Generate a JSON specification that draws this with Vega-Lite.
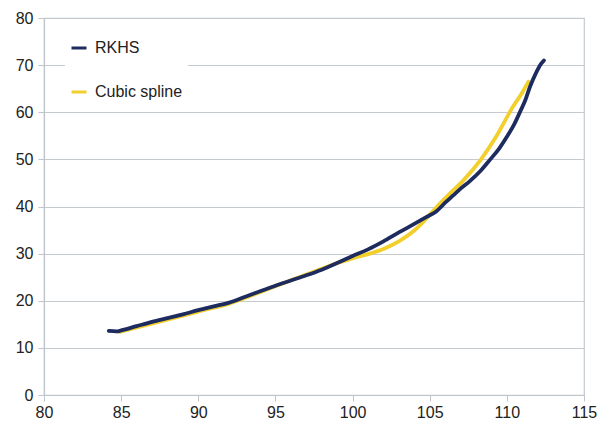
{
  "$schema": "https://vega.github.io/schema/vega-lite/v6.json",
  "autosize": "none",
  "width": 540,
  "height": 377,
  "padding": {"left": 44, "top": 18, "right": 15, "bottom": 33},
  "background": "white",
  "config": {
    "view": {"stroke": "#c5cacf", "strokeWidth": 1.2},
    "font": "Liberation Sans"
  },
  "data": {
    "values": [
      {"series": "Cubic spline", "x": 84.9, "y": 13.4},
      {"series": "Cubic spline", "x": 88.0, "y": 16.0},
      {"series": "Cubic spline", "x": 90.0, "y": 17.7},
      {"series": "Cubic spline", "x": 92.0, "y": 19.4},
      {"series": "Cubic spline", "x": 95.0, "y": 23.1},
      {"series": "Cubic spline", "x": 98.0, "y": 26.8},
      {"series": "Cubic spline", "x": 99.0, "y": 28.0},
      {"series": "Cubic spline", "x": 100.0, "y": 29.0},
      {"series": "Cubic spline", "x": 101.0, "y": 29.9},
      {"series": "Cubic spline", "x": 102.0, "y": 31.0},
      {"series": "Cubic spline", "x": 103.0, "y": 32.6},
      {"series": "Cubic spline", "x": 104.0, "y": 34.9},
      {"series": "Cubic spline", "x": 104.6, "y": 36.8},
      {"series": "Cubic spline", "x": 105.2, "y": 39.0},
      {"series": "Cubic spline", "x": 106.1, "y": 42.1},
      {"series": "Cubic spline", "x": 107.2, "y": 45.6},
      {"series": "Cubic spline", "x": 108.3, "y": 49.9},
      {"series": "Cubic spline", "x": 109.3, "y": 54.8},
      {"series": "Cubic spline", "x": 110.4, "y": 61.2},
      {"series": "Cubic spline", "x": 111.0, "y": 64.2},
      {"series": "Cubic spline", "x": 111.4, "y": 66.5},
      {"series": "RKHS", "x": 84.2, "y": 13.6},
      {"series": "RKHS", "x": 84.7, "y": 13.5},
      {"series": "RKHS", "x": 85.0, "y": 13.7},
      {"series": "RKHS", "x": 86.0, "y": 14.6},
      {"series": "RKHS", "x": 87.0, "y": 15.5},
      {"series": "RKHS", "x": 88.0, "y": 16.3},
      {"series": "RKHS", "x": 89.0, "y": 17.1},
      {"series": "RKHS", "x": 90.0, "y": 18.0},
      {"series": "RKHS", "x": 91.0, "y": 18.8},
      {"series": "RKHS", "x": 92.0, "y": 19.6},
      {"series": "RKHS", "x": 93.0, "y": 20.8},
      {"series": "RKHS", "x": 94.0, "y": 22.0},
      {"series": "RKHS", "x": 95.0, "y": 23.2},
      {"series": "RKHS", "x": 96.0, "y": 24.3},
      {"series": "RKHS", "x": 97.0, "y": 25.4},
      {"series": "RKHS", "x": 98.0, "y": 26.6},
      {"series": "RKHS", "x": 99.0, "y": 28.0},
      {"series": "RKHS", "x": 100.0, "y": 29.5},
      {"series": "RKHS", "x": 101.0, "y": 30.9},
      {"series": "RKHS", "x": 102.0, "y": 32.6},
      {"series": "RKHS", "x": 103.0, "y": 34.5},
      {"series": "RKHS", "x": 104.0, "y": 36.3},
      {"series": "RKHS", "x": 104.8, "y": 37.8},
      {"series": "RKHS", "x": 105.4, "y": 38.9},
      {"series": "RKHS", "x": 106.0, "y": 40.8},
      {"series": "RKHS", "x": 106.5, "y": 42.3},
      {"series": "RKHS", "x": 107.0, "y": 43.8},
      {"series": "RKHS", "x": 107.6, "y": 45.4},
      {"series": "RKHS", "x": 108.3, "y": 47.6},
      {"series": "RKHS", "x": 108.9, "y": 49.9},
      {"series": "RKHS", "x": 109.5, "y": 52.3},
      {"series": "RKHS", "x": 110.0, "y": 54.8},
      {"series": "RKHS", "x": 110.5, "y": 57.6},
      {"series": "RKHS", "x": 110.9, "y": 60.4},
      {"series": "RKHS", "x": 111.2, "y": 62.6},
      {"series": "RKHS", "x": 111.5, "y": 65.4},
      {"series": "RKHS", "x": 111.9, "y": 68.4},
      {"series": "RKHS", "x": 112.2, "y": 70.2},
      {"series": "RKHS", "x": 112.4, "y": 71.0}
    ]
  },
  "mark": {"type": "line", "strokeWidth": 3.8, "strokeCap": "round", "strokeJoin": "round", "interpolate": "monotone"},
  "encoding": {
    "x": {
      "field": "x",
      "type": "quantitative",
      "scale": {"domain": [80, 115], "nice": false, "zero": false},
      "axis": {
        "title": null,
        "values": [80, 85, 90, 95, 100, 105, 110, 115],
        "grid": false,
        "domainColor": "#bfc5cb",
        "domainWidth": 1.2,
        "tickColor": "#bfc5cb",
        "tickSize": 6,
        "labelFontSize": 16,
        "labelColor": "#222222",
        "labelPadding": 3,
        "labelFlush": false
      }
    },
    "y": {
      "field": "y",
      "type": "quantitative",
      "scale": {"domain": [0, 80], "nice": false},
      "axis": {
        "title": null,
        "values": [0, 10, 20, 30, 40, 50, 60, 70, 80],
        "grid": true,
        "gridColor": "#c5cacf",
        "gridWidth": 1.2,
        "domainColor": "#bfc5cb",
        "domainWidth": 1.2,
        "tickColor": "#bfc5cb",
        "tickSize": 6,
        "labelFontSize": 16,
        "labelColor": "#222222",
        "labelPadding": 5,
        "labelFlush": false
      }
    },
    "color": {
      "field": "series",
      "type": "nominal",
      "scale": {"domain": ["RKHS", "Cubic spline"], "range": ["#1d2b5e", "#f3cf2c"]},
      "legend": {
        "title": null,
        "orient": "none",
        "legendX": 21,
        "legendY": 16,
        "padding": 5,
        "fillColor": "white",
        "symbolType": "stroke",
        "symbolSize": 225,
        "symbolStrokeWidth": 3,
        "labelFontSize": 16,
        "labelColor": "#222222",
        "labelOffset": 7,
        "rowPadding": 27
      }
    }
  }
}
